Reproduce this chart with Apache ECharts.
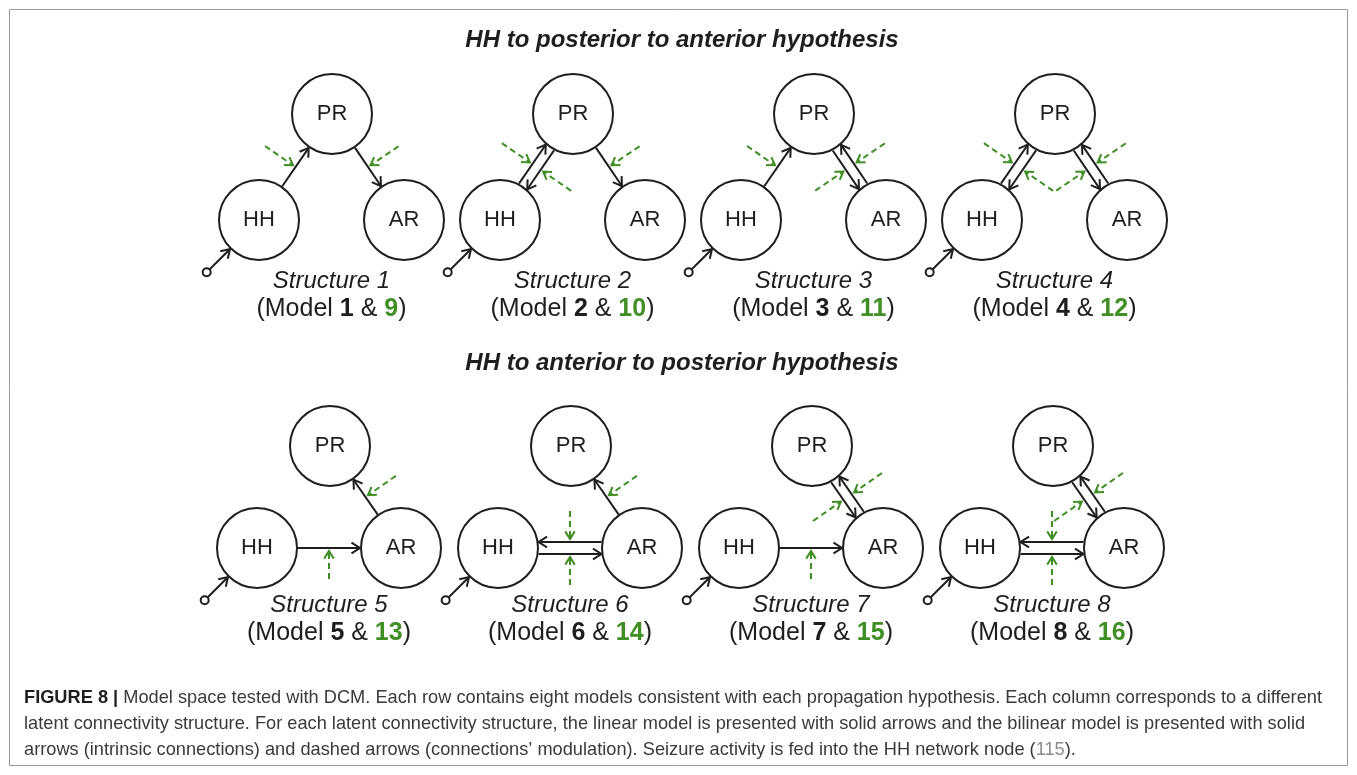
<!DOCTYPE html>
<html><head><meta charset="utf-8">
<script src="https://cdn.jsdelivr.net/npm/echarts@6/dist/echarts.min.js"></script>
<style>html,body{margin:0;padding:0;background:#fff}#c{width:1357px;height:775px}</style>
</head><body><div id="c"></div>
<script>
// ---------------- data ----------------
const nodeNames = ['HH', 'PR', 'AR'];
const rowTitles = ['HH to posterior to anterior hypothesis', 'HH to anterior to posterior hypothesis'];
const structureNames = ['Structure 1','Structure 2','Structure 3','Structure 4','Structure 5','Structure 6','Structure 7','Structure 8'];
const linearModels = [1, 2, 3, 4, 5, 6, 7, 8];
const bilinearModels = [9, 10, 11, 12, 13, 14, 15, 16];
// intrinsic connections: [from, to, side of the pair (-1 / 0 / +1)]
const connections = [
  [['HH','PR',0],['PR','AR',0]],
  [['HH','PR',-1],['PR','HH',1],['PR','AR',0]],
  [['HH','PR',0],['AR','PR',-1],['PR','AR',1]],
  [['HH','PR',-1],['PR','HH',1],['AR','PR',-1],['PR','AR',1]],
  [['HH','AR',0],['AR','PR',0]],
  [['AR','HH',-1],['HH','AR',1],['AR','PR',0]],
  [['HH','AR',0],['AR','PR',1],['PR','AR',-1]],
  [['AR','HH',-1],['HH','AR',1],['AR','PR',1],['PR','AR',-1]]
];
// modulations: [pair a, pair b, which line (-1/0/+1), side the dashed arrow comes from]
const modulations = [
  [['HH','PR',0,-1],['PR','AR',0,-1]],
  [['HH','PR',-1,-1],['HH','PR',1,1],['PR','AR',0,-1]],
  [['HH','PR',0,-1],['PR','AR',-1,-1],['PR','AR',1,1]],
  [['HH','PR',-1,-1],['HH','PR',1,1],['PR','AR',-1,-1],['PR','AR',1,1]],
  [['HH','AR',0,1],['AR','PR',0,1]],
  [['HH','AR',-1,-1],['HH','AR',1,1],['AR','PR',0,1]],
  [['HH','AR',0,1],['AR','PR',1,1],['AR','PR',-1,-1]],
  [['HH','AR',-1,-1],['HH','AR',1,1],['AR','PR',1,1],['AR','PR',-1,-1]]
];
const inputNode = 'HH';
const captionLines = [
  ['FIGURE 8 |', ' Model space tested with DCM. Each row contains eight models consistent with each propagation hypothesis. Each column corresponds to a different'],
  ['', 'latent connectivity structure. For each latent connectivity structure, the linear model is presented with solid arrows and the bilinear model is presented with solid'],
  ['', 'arrows (intrinsic connections) and dashed arrows (connections\u2019 modulation). Seizure activity is fed into the HH network node (', '115', ').']
];

// ---------------- layout / style ----------------
const W = 1357, H = 775;
const GREEN = '#3f8f24', BLACK = '#1e1e1e';
const R = 41;
const rows = [
  {x0: 259, dx: 241, y: 220, off: {HH:[0,0], PR:[73,-106], AR:[145,0]}, pairs: [['HH','PR'],['PR','AR']], titleY: 40, capY: [281, 309]},
  {x0: 257, dx: 241, y: 548, off: {HH:[0,0], PR:[73,-102], AR:[144,0]}, pairs: [['HH','AR'],['AR','PR']], titleY: 363, capY: [605, 633]}
];
const lineSep = {HH_PR: 5, PR_AR: 5, HH_AR: 6, AR_PR: 5};
const FONT = '"Liberation Sans", Arial, Helvetica, sans-serif';

function pos(s, name) {
  const L = rows[s < 4 ? 0 : 1];
  const o = L.off[name];
  return [L.x0 + L.dx * (s % 4) + o[0], L.y + o[1]];
}
function pairFrame(s, a, b) {
  const L = rows[s < 4 ? 0 : 1];
  const pr = L.pairs.find(p => (p[0] === a && p[1] === b) || (p[0] === b && p[1] === a));
  const P = pos(s, pr[0]), Q = pos(s, pr[1]);
  const dx = Q[0] - P[0], dy = Q[1] - P[1], l = Math.hypot(dx, dy);
  const u = [dx / l, dy / l], n = [-u[1], u[0]];
  return {P, Q, u, n, sep: lineSep[pr[0] + '_' + pr[1]], key: pr[0] + '_' + pr[1]};
}

const elements = []; // [x1, y1, x2, y2, kind]  kind 0 solid, 1 dashed modulation, 2 input
const nodesData = [];
for (let s = 0; s < 8; s++) {
  nodeNames.forEach(nm => { const p = pos(s, nm); nodesData.push([p[0], p[1], nm]); });
  connections[s].forEach(([a, b, side]) => {
    const f = pairFrame(s, a, b);
    const d = side * f.sep;
    const A = pos(s, a), B = pos(s, b);
    const ll = Math.hypot(B[0]-A[0], B[1]-A[1]);
    const v = [(B[0] - A[0]) / ll, (B[1] - A[1]) / ll];
    const k = Math.sqrt(R * R - d * d);
    const sx = A[0] + f.n[0] * d + v[0] * k, sy = A[1] + f.n[1] * d + v[1] * k;
    const ex = B[0] + f.n[0] * d - v[0] * k, ey = B[1] + f.n[1] * d - v[1] * k;
    elements.push([sx, sy, ex, ey, 0]);
  });
  modulations[s].forEach(([a, b, line, side]) => {
    const f = pairFrame(s, a, b);
    const len = f.key === 'HH_AR' ? 28 : 34, gap = 3;
    const mx = (f.P[0] + f.Q[0]) / 2 + f.n[0] * line * f.sep;
    const my = (f.P[1] + f.Q[1]) / 2 + f.n[1] * line * f.sep;
    const tx = mx + f.n[0] * side * gap, ty = my + f.n[1] * side * gap;
    const sx = tx + f.n[0] * side * len, sy = ty + f.n[1] * side * len;
    elements.push([sx, sy, tx, ty, 1]);
  });
  const h = pos(s, inputNode);
  const c = Math.SQRT1_2;
  elements.push([h[0] - 74 * c, h[1] + 74 * c, h[0] - R * c, h[1] + R * c, 2]);
}

// caption fitting (condensed look)
const meas = document.createElement('canvas').getContext('2d');
const CAP_SIZE = 19;
meas.font = 'bold ' + CAP_SIZE + 'px ' + FONT;
let w1 = meas.measureText(captionLines[0][0]).width;
meas.font = CAP_SIZE + 'px ' + FONT;
w1 += meas.measureText(captionLines[0][1]).width;
const capScale = 1298 / w1;

const graphics = [];
graphics.push({type: 'rect', shape: {x: 9.5, y: 9.5, width: 1338, height: 756}, style: {fill: null, stroke: '#9a9a9a', lineWidth: 1}, silent: true});
rows.forEach((L, r) => {
  graphics.push({type: 'text', x: 682, y: L.titleY, style: {text: rowTitles[r], x: 0, y: 0, align: 'center', verticalAlign: 'middle',
    fontSize: 24, fontWeight: 'bold', fontStyle: 'italic', fontFamily: FONT, fill: '#1e1e1e'}});
});
for (let s = 0; s < 8; s++) {
  const L = rows[s < 4 ? 0 : 1];
  const cx = L.x0 + L.dx * (s % 4) + L.off.AR[0] / 2;
  graphics.push({type: 'text', x: cx, y: L.capY[0], style: {text: structureNames[s], x: 0, y: 0, align: 'center', verticalAlign: 'middle',
    fontSize: 24, fontStyle: 'italic', fontFamily: FONT, fill: '#1e1e1e'}});
  graphics.push({type: 'text', x: cx, y: L.capY[1], style: {
    text: '{n|(Model }{b|' + linearModels[s] + '}{n| & }{g|' + bilinearModels[s] + '}{n|)}', x: 0, y: 0, align: 'center', verticalAlign: 'middle',
    rich: {
      n: {fontSize: 25, fontFamily: FONT, fill: '#1e1e1e'},
      b: {fontSize: 25, fontFamily: FONT, fontWeight: 'bold', fill: '#1e1e1e'},
      g: {fontSize: 25, fontFamily: FONT, fontWeight: 'bold', fill: GREEN}
    }}});
}
const capYs = [698, 724, 750];
captionLines.forEach((ln, i) => {
  let t = '';
  if (ln[0]) t += '{f|' + ln[0] + '}';
  t += '{n|' + ln[1] + '}';
  if (ln[2]) t += '{r|' + ln[2] + '}{n|' + ln[3] + '}';
  graphics.push({type: 'text', x: 24, y: capYs[i], scaleX: capScale, style: {text: t, x: 0, y: 0, align: 'left', verticalAlign: 'middle',
    rich: {
      f: {fontSize: CAP_SIZE, fontFamily: FONT, fontWeight: 'bold', fill: '#1e1e1e'},
      n: {fontSize: CAP_SIZE, fontFamily: FONT, fill: '#3a3a3a'},
      r: {fontSize: CAP_SIZE, fontFamily: FONT, fill: '#8c8c8c'}
    }}});
});

const chart = echarts.init(document.getElementById('c'), null, {renderer: 'canvas'});
chart.setOption({
  animation: false,
  backgroundColor: '#fff',
  grid: {left: 0, right: 0, top: 0, bottom: 0},
  xAxis: {type: 'value', min: 0, max: W, show: false},
  yAxis: {type: 'value', min: 0, max: H, inverse: true, show: false},
  graphic: graphics,
  series: [
    {
      type: 'custom', coordinateSystem: 'cartesian2d', clip: false, z: 2,
      data: elements,
      encode: {x: [0, 2], y: [1, 3]},
      renderItem: function (params, api) {
        const p1 = api.coord([api.value(0), api.value(1)]);
        const p2 = api.coord([api.value(2), api.value(3)]);
        const kind = api.value(4);
        const col = kind === 1 ? GREEN : BLACK;
        const dx = p2[0] - p1[0], dy = p2[1] - p1[1], l = Math.hypot(dx, dy);
        const ux = dx / l, uy = dy / l;
        const hl = kind === 1 ? 9 : 10, ang = 32 * Math.PI / 180;
        const bx = -ux, by = -uy, cs = Math.cos(ang), sn = Math.sin(ang);
        const w1 = [p2[0] + hl * (bx * cs - by * sn), p2[1] + hl * (bx * sn + by * cs)];
        const w2 = [p2[0] + hl * (bx * cs + by * sn), p2[1] + hl * (-bx * sn + by * cs)];
        const children = [];
        let st = p1;
        if (kind === 2) {
          children.push({type: 'circle', shape: {cx: p1[0], cy: p1[1], r: 4}, style: {fill: '#fff', stroke: BLACK, lineWidth: 2}});
          st = [p1[0] + ux * 4, p1[1] + uy * 4];
        }
        children.push({type: 'line', shape: {x1: st[0], y1: st[1], x2: p2[0] - ux * 1, y2: p2[1] - uy * 1},
          style: {stroke: col, lineWidth: 2, lineDash: kind === 1 ? [6, 4] : null}});
        children.push({type: 'polyline', shape: {points: [w1, p2, w2]}, style: {stroke: col, fill: null, lineWidth: 2, lineJoin: 'miter'}});
        return {type: 'group', children: children};
      }
    },
    {
      type: 'scatter', z: 3, data: nodesData, symbol: 'circle', symbolSize: 80,
      itemStyle: {color: '#fff', borderColor: BLACK, borderWidth: 2, opacity: 1},
      label: {show: true, position: 'inside', formatter: p => p.data[2], fontSize: 22, color: '#1e1e1e', fontFamily: FONT},
      emphasis: {disabled: true}, silent: true
    }
  ]
});
</script></body></html>
